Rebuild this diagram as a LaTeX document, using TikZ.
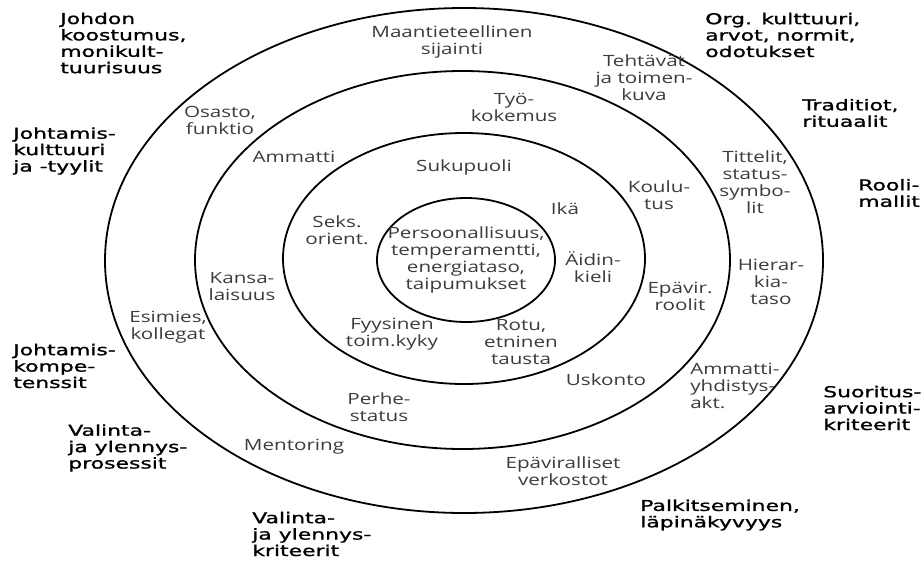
\documentclass[tikz,border=0pt]{standalone}
\usepackage{fontspec}
\usetikzlibrary{shapes.geometric}
\newfontfamily\innerfam{Open Sans}
\newfontfamily\outerfam[FakeBold=1]{DejaVu Sans}
\newcommand\innerfnt{\innerfam\fontsize{15.5}{17}\selectfont}
\newcommand\outerfnt{\outerfam\fontsize{15}{16.4}\selectfont}
\definecolor{innergray}{HTML}{3C3C3C}
\begin{document}
\begin{tikzpicture}[x=1pt,y=-1pt,
  ring/.style={draw=black, line width=1.8pt, ellipse, inner sep=0pt},
  lab/.style={font=\innerfnt, text=innergray, align=center, inner sep=0pt, xscale=1.33},
  ext/.style={font=\outerfnt, text=black, align=left, anchor=west, inner sep=0pt, xscale=1.46}]
\useasboundingbox (0,0) rectangle (923,560);
\fill[white] (0,0) rectangle (923,560);
% rings
\node[ring, minimum width=718pt, minimum height=505pt] (r4) at (464,260.5) {};
\node[ring, minimum width=535pt, minimum height=378pt] (r3) at (462.5,260) {};
\node[ring, minimum width=362pt, minimum height=251pt] (r2) at (464,258.5) {};
\node[ring, minimum width=178pt, minimum height=124pt] (r1) at (466,260) {};
% core
\node[lab] (core) at (466,260) {Persoonallisuus,\\temperamentti,\\energiataso,\\taipumukset};
% second ring labels
\node[lab] (suku) at (464,167) {Sukupuoli};
\node[lab] (seks) at (337,230) {Seks.\\orient.};
\node[lab] (ika) at (565,209) {Ikä};
\node[lab] (aidin) at (593,267) {Äidin-\\kieli};
\node[lab] (fyys) at (392,334) {Fyysinen\\toim.kyky};
\node[lab] (rotu) at (521,342) {Rotu,\\etninen\\tausta};
% third ring labels
\node[lab] (tyo) at (514,107) {Työ-\\kokemus};
\node[lab] (ammatti) at (294,157) {Ammatti};
\node[lab] (koulu) at (659,195) {Koulu-\\tus};
\node[lab] (kansa) at (242,287) {Kansa-\\laisuus};
\node[lab] (epavir) at (680,296) {Epävir.\\roolit};
\node[lab] (usko) at (606,380) {Uskonto};
\node[lab] (perhe) at (379,407) {Perhe-\\status};
% outer ring labels
\node[lab] (maan) at (452,42) {Maantieteellinen\\sijainti};
\node[lab] (teht) at (644,78) {Tehtävät\\ja toimen-\\kuva};
\node[lab] (osasto) at (220,120) {Osasto,\\funktio};
\node[lab] (titt) at (755,182) {Tittelit,\\status-\\symbo-\\lit};
\node[lab] (hier) at (771,282) {Hierar-\\kia-\\taso};
\node[lab] (esim) at (168,327) {Esimies,\\kollegat};
\node[lab, align=left, anchor=west] (ammyh) at (690,386) {Ammatti-\\yhdistys-\\akt.};
\node[lab] (mento) at (294,447) {Mentoring};
\node[lab] (epaver) at (563,471) {Epäviralliset\\verkostot};
% outside labels
\node[ext] (johdon) at (60,43) {Johdon\\koostumus,\\monikult-\\tuurisuus};
\node[ext] (jkult) at (13,151) {Johtamis-\\kulttuuri\\ja -tyylit};
\node[ext] (jkomp) at (13,366) {Johtamis-\\kompe-\\tenssit};
\node[ext] (valp) at (68,448) {Valinta-\\ja ylennys-\\prosessit};
\node[ext] (valk) at (252,534) {Valinta-\\ja ylennys-\\kriteerit};
\node[ext] (palk) at (640,515) {Palkitseminen,\\läpinäkyvyys};
\node[ext] (suor) at (823,408) {Suoritus-\\arviointi-\\kriteerit};
\node[ext] (rooli) at (858,193) {Rooli-\\mallit};
\node[ext] (trad) at (802,113) {Traditiot,\\rituaalit};
\node[ext] (org) at (705,35) {Org. kulttuuri,\\arvot, normit,\\odotukset};
\end{tikzpicture}
\end{document}
